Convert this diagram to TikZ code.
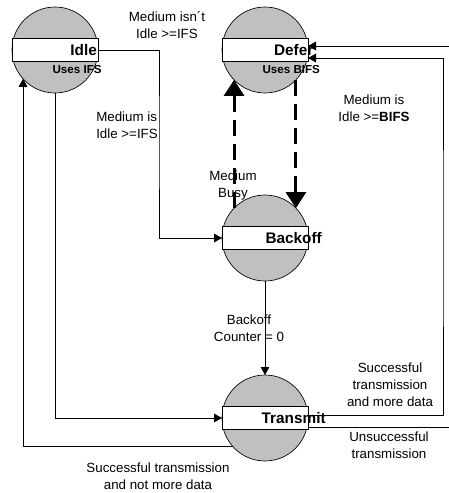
\documentclass[tikz,border=0pt]{standalone}
\usepackage{fontspec}
\setmainfont{Liberation Sans}
\usetikzlibrary{positioning}
\usetikzlibrary{arrows.meta}
\definecolor{stategray}{RGB}{192,192,192}

\begin{document}
\begin{tikzpicture}[
      x=0.75pt, y=-0.75pt,
      state/.style={circle,draw,fill=stategray,minimum size=64.5pt,inner sep=0pt,outer sep=0pt,line width=0.5pt},
      band/.style={rectangle,draw,fill=white,minimum width=64.5pt,minimum height=17pt,inner sep=0pt,outer sep=0pt,line width=0.6pt},
      sname/.style={font=\fontsize{11.5}{13}\selectfont\bfseries,inner sep=0pt},
      ssub/.style={font=\fontsize{8.7}{10}\selectfont\bfseries,inner sep=0pt,anchor=west},
      tlabel/.style={font=\fontsize{10}{12.7}\selectfont,align=center,inner sep=0pt},
      arr/.style={-{Triangle[length=6pt,width=6.5pt]},line width=0.6pt},
      busy/.style={-{Triangle[length=12pt,width=15pt]},line width=2.25pt,dash pattern=on 12pt off 6pt},
    ]
        \useasboundingbox (0,0) rectangle (449,493);
        \clip (0,0) rectangle (449,493);

        % states
        \node[state] (idle) at (55,50) {};
        \node[band] (idle-band) at (idle.center) {};
        \node[sname] (idle-name) at ([xshift=21.5pt]idle.center) {Idle};
        \node[ssub] (idle-sub) at ([xshift=-2pt,yshift=-14.5pt]idle.center) {Uses IFS};

        \node[state] (defer) at (265,50) {};
        \node[band] (defer-band) at (defer.center) {};
        \node[sname] (defer-name) at ([xshift=21.5pt]defer.center) {Defer};
        \node[ssub] (defer-sub) at ([xshift=-2pt,yshift=-14.5pt]defer.center) {Uses BIFS};

        \node[state] (backoff) at (265,238) {};
        \node[band] (backoff-band) at (backoff.center) {};
        \node[sname] (backoff-name) at ([xshift=21.5pt]backoff.center) {Backoff};

        \node[state] (transmit) at (265,418) {};
        \node[band] (transmit-band) at (transmit.center) {};
        \node[sname] (transmit-name) at ([xshift=21.5pt]transmit.center) {Transmit};

        % transitions
        \coordinate (idle-turn) at (159,140);
        \draw[arr] (idle-band.east) -| (idle-turn) |- (backoff-band.west);
        \draw[arr] (idle.south) |- (transmit-band.west);
        \draw[arr] (transmit.222) -| (idle.222);
        \draw[arr] (backoff.south) -- node[tlabel,xshift=-12pt] (counter-label) {Backoff\\Counter = 0} (transmit.north);
        \draw[busy] (backoff.136) -- (defer.224);
        \draw[busy] (defer.-44) -- (backoff.44);

        \coordinate (right-turn) at (443,240);
        \coordinate (off-edge) at (470,240);
        \draw[arr] ([yshift=2.25pt]transmit-band.east) -| (right-turn) |- ([yshift=-6pt]defer-band.east);
        \draw[arr] ([yshift=-6.75pt]transmit-band.east) -| (off-edge) |- ([yshift=3pt]defer-band.east);

        % labels
        \node[tlabel] (isnt-label) at (167,25) {Medium isn´t\\Idle >=IFS};
        \node[tlabel,align=left,anchor=west] (ifs-label) at (96,125) {Medium is\\Idle >=IFS};
        \node[tlabel] (bifs-label) at (374,108) {Medium is\\Idle >=\textbf{BIFS}};
        \node[tlabel] (busy-label) at (233,186) {Medium\\Busy};
        \node[tlabel] (more-label) at (390,385) {Successful\\transmission\\and more data};
        \node[tlabel] (fail-label) at (389,445) {Unsuccessful\\transmission};
        \node[tlabel] (done-label) at (158,476) {Successful transmission\\and not more data};
\end{tikzpicture}
\end{document}
